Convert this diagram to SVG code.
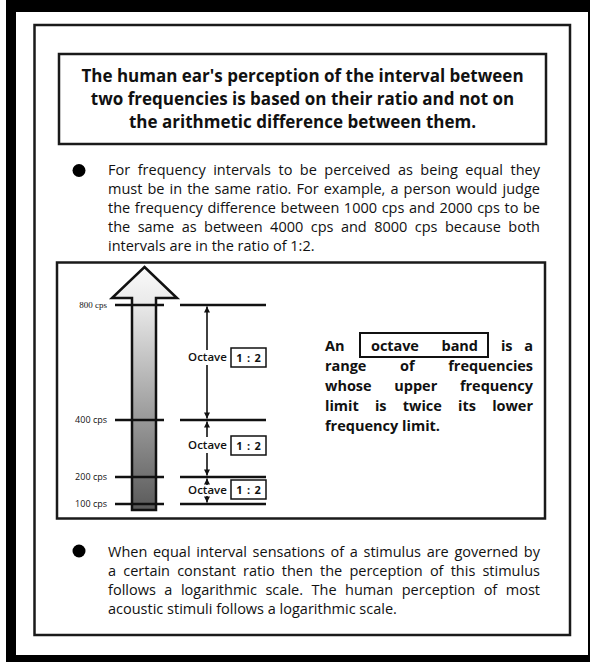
<svg xmlns="http://www.w3.org/2000/svg" width="591" height="662" viewBox="0 0 591 662">
<style>
.t{font-family:"Open Sans","Noto Sans","Liberation Sans",sans-serif;fill:#111}
.title{font-size:17px;font-weight:700;text-anchor:middle}
.body{font-size:14.5px;font-weight:500}
.oct{font-size:14.5px;font-weight:700}
.lab{font-size:11.5px;font-weight:600;text-anchor:middle}
.ratio{font-size:11px;font-weight:700;text-anchor:middle;word-spacing:1.5px}
.cps{font-size:9px;text-anchor:end}
.serif{font-family:"Liberation Serif","Times New Roman",serif;font-size:9px;text-anchor:end;fill:#111}
.box{fill:none;stroke:#1a1a1a;stroke-width:2.5}
.tick{stroke:#111;stroke-width:2.5}
.dim{stroke:#111;stroke-width:1.6;fill:none}
</style>
<defs>
<linearGradient id="shade" gradientUnits="userSpaceOnUse" x1="0" y1="267" x2="0" y2="510">
<stop offset="0" stop-color="#fafafa"/>
<stop offset="0.15" stop-color="#eaeaea"/>
<stop offset="1" stop-color="#5a5a5a"/>
</linearGradient>
<marker id="ah" viewBox="0 0 8 8" refX="8" refY="4" markerWidth="7" markerHeight="6" markerUnits="userSpaceOnUse" orient="auto-start-reverse">
<path d="M0,0 L8,4 L0,8 z" fill="#111"/>
</marker>
</defs>

<g id="frame">
<rect x="0" y="0" width="591" height="662" fill="#fff"/>
<rect x="6" y="0" width="584" height="662" fill="#000"/>
<rect x="16" y="12" width="572" height="643" fill="#fff"/>
<rect x="34.5" y="25" width="535.5" height="610" class="box" stroke-width="2.2"/>
</g>

<g id="title">
<rect x="59" y="54" width="487" height="90" class="box"/>
<text class="t title" x="302.5" y="82">The human ear's perception of the interval between</text>
<text class="t title" x="302.5" y="105">two frequencies is based on their ratio and not on</text>
<text class="t title" x="302.5" y="128">the arithmetic difference between them.</text>
</g>

<g id="bullet1">
<circle cx="79" cy="170.5" r="6.5" fill="#000"/>
<text class="t body" x="108" y="175" word-spacing="3.7" textLength="432" lengthAdjust="spacing">For frequency intervals to be perceived as being equal they</text>
<text class="t body" x="108" y="194" word-spacing="1.3" textLength="432" lengthAdjust="spacing">must be in the same ratio. For example, a person would judge</text>
<text class="t body" x="108" y="213" word-spacing="0.8" textLength="432" lengthAdjust="spacing">the frequency difference between 1000 cps and 2000 cps to be</text>
<text class="t body" x="108" y="232" word-spacing="3.7" textLength="432" lengthAdjust="spacing">the same as between 4000 cps and 8000 cps because both</text>
<text class="t body" x="108" y="251">intervals are in the ratio of 1:2.</text>
</g>

<g id="diagram">
<rect x="57" y="262.5" width="488" height="256" class="box"/>
</g>

<g id="scale-arrow">
<polygon points="144.5,267 177,298 156,298 156,510 132,510 132,298 112,298" fill="url(#shade)" stroke="#111" stroke-width="2.5" stroke-linejoin="miter"/>
</g>

<g id="ticks">
<line class="tick" x1="115" y1="305" x2="164" y2="305"/>
<line class="tick" x1="115" y1="420" x2="164" y2="420"/>
<line class="tick" x1="115" y1="477" x2="164" y2="477"/>
<line class="tick" x1="115" y1="504" x2="164" y2="504"/>
<line class="tick" x1="180" y1="305" x2="266" y2="305"/>
<line class="tick" x1="180" y1="420" x2="266" y2="420"/>
<line class="tick" x1="180" y1="477" x2="266" y2="477"/>
<line class="tick" x1="180" y1="504" x2="266" y2="504"/>
</g>

<g id="cps-labels">
<text class="serif" x="107" y="308">800 cps</text>
<text class="t cps" x="107" y="423">400 cps</text>
<text class="t cps" x="107" y="480">200 cps</text>
<text class="t cps" x="107" y="507">100 cps</text>
</g>

<g id="connectors">
<line class="dim" x1="207" y1="350" x2="207" y2="306.5" marker-end="url(#ah)"/>
<line class="dim" x1="207" y1="365" x2="207" y2="418.5" marker-end="url(#ah)"/>
<line class="dim" x1="207" y1="437" x2="207" y2="421.5" marker-end="url(#ah)"/>
<line class="dim" x1="207" y1="453" x2="207" y2="475.5" marker-end="url(#ah)"/>
<line class="dim" x1="207" y1="485" x2="207" y2="478.5" marker-end="url(#ah)"/>
<line class="dim" x1="207" y1="496" x2="207" y2="502.5" marker-end="url(#ah)"/>
</g>

<g id="octave1">
<text class="t lab" x="207.5" y="361">Octave</text>
<rect x="231" y="348" width="35" height="19" fill="#fff" stroke="#111" stroke-width="1.5"/>
<text class="t ratio" x="248.5" y="361.5">1 : 2</text>
</g>
<g id="octave2">
<text class="t lab" x="207.5" y="449">Octave</text>
<rect x="231" y="436" width="35" height="19" fill="#fff" stroke="#111" stroke-width="1.5"/>
<text class="t ratio" x="248.5" y="449.5">1 : 2</text>
</g>
<g id="octave3">
<text class="t lab" x="207.5" y="494">Octave</text>
<rect x="231" y="480" width="35" height="19" fill="#fff" stroke="#111" stroke-width="1.5"/>
<text class="t ratio" x="248.5" y="493.5">1 : 2</text>
</g>

<g id="definition">
<rect x="360" y="333" width="128" height="24" fill="none" stroke="#111" stroke-width="2"/>
<text class="t oct" x="325" y="351">An</text>
<text class="t oct" x="371" y="351" word-spacing="19" textLength="107" lengthAdjust="spacing">octave band</text>
<text class="t oct" x="501" y="351" word-spacing="8" textLength="32" lengthAdjust="spacing">is a</text>
<text class="t oct" x="325" y="371" word-spacing="30" textLength="208" lengthAdjust="spacing">range of frequencies</text>
<text class="t oct" x="325" y="391" word-spacing="19" textLength="208" lengthAdjust="spacing">whose upper frequency</text>
<text class="t oct" x="325" y="411" word-spacing="12.5" textLength="208" lengthAdjust="spacing">limit is twice its lower</text>
<text class="t oct" x="325" y="431">frequency limit.</text>
</g>

<g id="bullet2">
<circle cx="79" cy="551" r="6.5" fill="#000"/>
<text class="t body" x="108" y="557" word-spacing="1.9" textLength="432" lengthAdjust="spacing">When equal interval sensations of a stimulus are governed by</text>
<text class="t body" x="108" y="576" word-spacing="3.4" textLength="432" lengthAdjust="spacing">a certain constant ratio then the perception of this stimulus</text>
<text class="t body" x="108" y="595" word-spacing="4.7" textLength="432" lengthAdjust="spacing">follows a logarithmic scale. The human perception of most</text>
<text class="t body" x="108" y="614">acoustic stimuli follows a logarithmic scale.</text>
</g>
</svg>
